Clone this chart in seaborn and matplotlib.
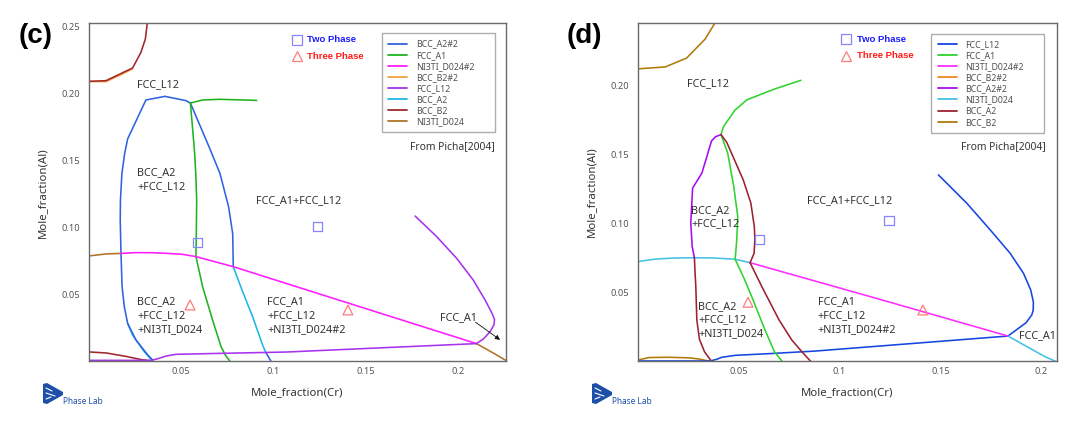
import numpy as np
import pandas as pd
import seaborn as sns
import matplotlib
matplotlib.use("Agg")
import matplotlib.pyplot as plt
from matplotlib.lines import Line2D
from matplotlib.patches import Polygon

# ---------------- data: panel (c) ----------------
c_bccb2_top_x = [0.0, 0.0094, 0.0238, 0.0283, 0.0307, 0.0320]
c_bccb2_top_y = [0.2087, 0.2092, 0.2187, 0.2303, 0.2403, 0.2552]
c_bccb2b_top_x = [0.0, 0.0094, 0.0165, 0.0238]
c_bccb2b_top_y = [0.2085, 0.2085, 0.2130, 0.2180]
c_bccb2_bot_x = [0.0, 0.0095, 0.0200, 0.0280, 0.0340]
c_bccb2_bot_y = [0.0068, 0.0060, 0.0035, 0.0012, 0.0]

c_bcca2b_loop_x = [0.0347, 0.0320, 0.0256, 0.0211, 0.0193, 0.0181, 0.0175, 0.0171, 0.0172,
                   0.0180, 0.0195, 0.0211, 0.0310, 0.0413, 0.0527, 0.0551, 0.0653, 0.0711,
                   0.0758, 0.0780, 0.0783]
c_bcca2b_loop_y = [0.0007, 0.0045, 0.0157, 0.0281, 0.0405, 0.0555, 0.0803, 0.1052, 0.1200,
                   0.1400, 0.1550, 0.1657, 0.1948, 0.1975, 0.1943, 0.1925, 0.1595, 0.1400,
                   0.1150, 0.0950, 0.0704]
c_bcca2b_bot_x = [0.0960, 0.0987]
c_bcca2b_bot_y = [0.0062, 0.0]

c_bcca2_right_x = [0.0783, 0.0834, 0.0888, 0.0942, 0.0960]
c_bcca2_right_y = [0.0704, 0.0517, 0.0331, 0.0119, 0.0062]
c_bcca2_left_x = [0.0211, 0.0238, 0.0301, 0.0338, 0.0347]
c_bcca2_left_y = [0.0281, 0.0194, 0.0070, 0.0012, 0.0]

c_fcca1_up_x = [0.0551, 0.0617, 0.0708, 0.0910]
c_fcca1_up_y = [0.1925, 0.1948, 0.1953, 0.1945]
c_fcca1_down_x = [0.0551, 0.0565, 0.0574, 0.0580, 0.0585, 0.0583, 0.0581, 0.0617, 0.0671,
                  0.0717, 0.0740, 0.0764]
c_fcca1_down_y = [0.1925, 0.1700, 0.1550, 0.1400, 0.1200, 0.0950, 0.0779, 0.0555, 0.0306,
                  0.0107, 0.0045, 0.0]

c_ni3tib_x = [0.0175, 0.0260, 0.0347, 0.0430, 0.0509, 0.0581, 0.0783, 0.2100]
c_ni3tib_y = [0.0803, 0.0809, 0.0808, 0.0803, 0.0796, 0.0779, 0.0704, 0.0130]
c_ni3ti_left_x = [0.0, 0.0094, 0.0175]
c_ni3ti_left_y = [0.0784, 0.0799, 0.0803]
c_ni3ti_right_x = [0.2100, 0.2201, 0.2265]
c_ni3ti_right_y = [0.0130, 0.0052, 0.0]

c_fccl12_bot_x = [0.0, 0.0338, 0.0374, 0.0419, 0.0473, 0.0708, 0.1069, 0.2100]
c_fccl12_bot_y = [0.0005, 0.0005, 0.0017, 0.0037, 0.0050, 0.0057, 0.0067, 0.0130]
c_fccl12_loop_x = [0.1768, 0.1885, 0.1993, 0.2083, 0.2147, 0.2183, 0.2198, 0.2195, 0.2174,
                   0.2138, 0.2100]
c_fccl12_loop_y = [0.1082, 0.0928, 0.0766, 0.0604, 0.0455, 0.0360, 0.0310, 0.0270, 0.0219,
                   0.0165, 0.0130]

c_two_x = [0.0588, 0.1238]
c_two_y = [0.0888, 0.1005]
c_three_x = [0.0549, 0.1404]
c_three_y = [0.0418, 0.0381]

c_legend = ["BCC_A2#2", "FCC_A1", "NI3TI_D024#2", "BCC_B2#2", "FCC_L12", "BCC_A2",
            "BCC_B2", "NI3TI_D024"]
c_colors = ["#2f63df", "#1fb41f", "#ff1cff", "#f3a243", "#a733ef", "#1fb6e6",
            "#a0282a", "#b0742a"]

# ---------------- data: panel (d) ----------------
d_bccb2_top_x = [0.0, 0.0135, 0.0241, 0.0333, 0.0384]
d_bccb2_top_y = [0.2122, 0.2136, 0.2200, 0.2338, 0.2460]
d_bccb2_bot_x = [0.0, 0.0055, 0.0150, 0.0250, 0.0300, 0.0360]
d_bccb2_bot_y = [0.0010, 0.0028, 0.0030, 0.0026, 0.0018, 0.0]

d_fccl12_bot_x = [0.0, 0.0358, 0.0390, 0.0416, 0.0482, 0.0647, 0.0879, 0.1835]
d_fccl12_bot_y = [0.0003, 0.0003, 0.0015, 0.0030, 0.0044, 0.0056, 0.0075, 0.0184]
d_fccl12_loop_x = [0.1490, 0.1631, 0.1747, 0.1846, 0.1912, 0.1948, 0.1961, 0.1960, 0.1953,
                   0.1925, 0.1835]
d_fccl12_loop_y = [0.1353, 0.1147, 0.0954, 0.0784, 0.0639, 0.0518, 0.0430, 0.0370, 0.0337,
                   0.0281, 0.0184]

d_ni3ti_left_x = [0.0, 0.0085, 0.0180, 0.0283, 0.0380, 0.0482, 0.0556]
d_ni3ti_left_y = [0.0724, 0.0742, 0.0750, 0.0752, 0.0750, 0.0741, 0.0716]
d_ni3ti_right_x = [0.1835, 0.2019, 0.2072]
d_ni3ti_right_y = [0.0184, 0.0034, 0.0]
d_ni3tib_x = [0.0556, 0.1200, 0.1835]
d_ni3tib_y = [0.0716, 0.0450, 0.0184]

d_fcca1_up_x = [0.0412, 0.0424, 0.0482, 0.0540, 0.0614, 0.0680, 0.0808]
d_fcca1_up_y = [0.1645, 0.1703, 0.1824, 0.1897, 0.1940, 0.1977, 0.2039]
d_fcca1_mid_x = [0.0412, 0.0445, 0.0475, 0.0495, 0.0490, 0.0482]
d_fcca1_mid_y = [0.1645, 0.1511, 0.1269, 0.1051, 0.0881, 0.0741]
d_fcca1_low_x = [0.0482, 0.0530, 0.0564, 0.0630, 0.0677, 0.0715]
d_fcca1_low_y = [0.0741, 0.0590, 0.0470, 0.0228, 0.0070, 0.0]

d_bcca2b_x = [0.0412, 0.0385, 0.0365, 0.0317, 0.0271, 0.0262, 0.0269, 0.0280]
d_bcca2b_y = [0.1645, 0.1630, 0.1600, 0.1366, 0.1257, 0.1002, 0.0833, 0.0752]

d_bcca2_left_x = [0.0280, 0.0283, 0.0287, 0.0292, 0.0305, 0.0330, 0.0365]
d_bcca2_left_y = [0.0752, 0.0650, 0.0542, 0.0300, 0.0160, 0.0070, 0.0]
d_bcca2_right_x = [0.0412, 0.0440, 0.0471, 0.0522, 0.0560, 0.0577, 0.0580, 0.0576, 0.0556]
d_bcca2_right_y = [0.1645, 0.1590, 0.1487, 0.1317, 0.1148, 0.0978, 0.0890, 0.0784, 0.0716]
d_bcca2_low_x = [0.0556, 0.0617, 0.0700, 0.0763, 0.0813, 0.0857]
d_bcca2_low_y = [0.0716, 0.0535, 0.0300, 0.0155, 0.0070, 0.0]

d_two_x = [0.0601, 0.1245]
d_two_y = [0.0886, 0.1019]
d_three_x = [0.0546, 0.1413]
d_three_y = [0.0429, 0.0373]

d_legend = ["FCC_L12", "FCC_A1", "NI3TI_D024#2", "BCC_B2#2", "BCC_A2#2", "NI3TI_D024",
            "BCC_A2", "BCC_B2"]
d_colors = ["#1646e0", "#2fd22f", "#ff2cff", "#ee8a22", "#a50cf0", "#45c2e3",
            "#9c2233", "#b27a0a"]

# ---------------- style ----------------
sns.set_style("white")
plt.rcParams["font.family"] = ["Noto Sans", "DejaVu Sans"]

TXT = "#333333"
BOLD = ["Liberation Sans", "DejaVu Sans"]
fig = plt.figure(figsize=(10.8, 4.28), dpi=100)
ax_c = fig.add_axes([0.0821, 0.1565, 0.3864, 0.7890])
ax_d = fig.add_axes([0.5907, 0.1556, 0.3876, 0.7914])


def draw(ax, xs, ys, color):
    df = pd.DataFrame({"x": xs, "y": ys})
    sns.lineplot(data=df, x="x", y="y", sort=False, estimator=None, color=color,
                 lw=1.15, ax=ax, legend=False)


cc = dict(zip(c_legend, c_colors))
draw(ax_c, c_bccb2b_top_x, c_bccb2b_top_y, cc["BCC_B2#2"])
draw(ax_c, c_bccb2_top_x, c_bccb2_top_y, cc["BCC_B2"])
draw(ax_c, c_bccb2_bot_x, c_bccb2_bot_y, cc["BCC_B2"])
draw(ax_c, c_bcca2_left_x, c_bcca2_left_y, cc["BCC_A2"])
draw(ax_c, c_bcca2_right_x, c_bcca2_right_y, cc["BCC_A2"])
draw(ax_c, c_bcca2b_loop_x, c_bcca2b_loop_y, cc["BCC_A2#2"])
draw(ax_c, c_bcca2b_bot_x, c_bcca2b_bot_y, cc["BCC_A2#2"])
draw(ax_c, c_fcca1_up_x, c_fcca1_up_y, cc["FCC_A1"])
draw(ax_c, c_fcca1_down_x, c_fcca1_down_y, cc["FCC_A1"])
draw(ax_c, c_ni3ti_left_x, c_ni3ti_left_y, cc["NI3TI_D024"])
draw(ax_c, c_ni3ti_right_x, c_ni3ti_right_y, cc["NI3TI_D024"])
draw(ax_c, c_ni3tib_x, c_ni3tib_y, cc["NI3TI_D024#2"])
draw(ax_c, c_fccl12_bot_x, c_fccl12_bot_y, cc["FCC_L12"])
draw(ax_c, c_fccl12_loop_x, c_fccl12_loop_y, cc["FCC_L12"])

dc = dict(zip(d_legend, d_colors))
draw(ax_d, d_bccb2_top_x, d_bccb2_top_y, dc["BCC_B2"])
draw(ax_d, d_bccb2_bot_x, d_bccb2_bot_y, dc["BCC_B2"])
draw(ax_d, d_fccl12_bot_x, d_fccl12_bot_y, dc["FCC_L12"])
draw(ax_d, d_fccl12_loop_x, d_fccl12_loop_y, dc["FCC_L12"])
draw(ax_d, d_ni3ti_left_x, d_ni3ti_left_y, dc["NI3TI_D024"])
draw(ax_d, d_ni3ti_right_x, d_ni3ti_right_y, dc["NI3TI_D024"])
draw(ax_d, d_ni3tib_x, d_ni3tib_y, dc["NI3TI_D024#2"])
draw(ax_d, d_fcca1_up_x, d_fcca1_up_y, dc["FCC_A1"])
draw(ax_d, d_fcca1_mid_x, d_fcca1_mid_y, dc["FCC_A1"])
draw(ax_d, d_fcca1_low_x, d_fcca1_low_y, dc["FCC_A1"])
draw(ax_d, d_bcca2b_x, d_bcca2b_y, dc["BCC_A2#2"])
draw(ax_d, d_bcca2_left_x, d_bcca2_left_y, dc["BCC_A2"])
draw(ax_d, d_bcca2_right_x, d_bcca2_right_y, dc["BCC_A2"])
draw(ax_d, d_bcca2_low_x, d_bcca2_low_y, dc["BCC_A2"])

SQ = "#8585ff"
TR = "#ff7a7a"
for ax, tx, ty, hx, hy in [(ax_c, c_two_x, c_two_y, c_three_x, c_three_y),
                           (ax_d, d_two_x, d_two_y, d_three_x, d_three_y)]:
    sns.scatterplot(x=tx, y=ty, marker="s", s=42, facecolor="none", edgecolor=SQ,
                    linewidth=0.9, ax=ax, zorder=5)
    sns.scatterplot(x=hx, y=hy, marker="^", s=50, facecolor="none", edgecolor=TR,
                    linewidth=0.9, ax=ax, zorder=5)

# axes styling
ax_c.set_xlim(0, 0.2260)
ax_c.set_ylim(0, 0.2520)
ax_d.set_xlim(0, 0.2076)
ax_d.set_ylim(0, 0.2457)
ax_c.set_xticks([0.05, 0.1, 0.15, 0.2])
ax_c.set_xticklabels(["0.05", "0.1", "0.15", "0.2"])
ax_c.set_yticks([0.05, 0.10, 0.15, 0.20, 0.25])
ax_c.set_yticklabels(["0.05", "0.10", "0.15", "0.20", "0.25"])
ax_d.set_xticks([0.05, 0.1, 0.15, 0.2])
ax_d.set_xticklabels(["0.05", "0.1", "0.15", "0.2"])
ax_d.set_yticks([0.05, 0.10, 0.15, 0.20])
ax_d.set_yticklabels(["0.05", "0.10", "0.15", "0.20"])

for ax in (ax_c, ax_d):
    for s in ax.spines.values():
        s.set_visible(True)
        s.set_color("#6a6a6a")
        s.set_linewidth(1.0)
    ax.tick_params(axis="both", which="both", length=3, width=0.8, color="#6a6a6a",
                   labelsize=6.7, labelcolor="#555555", pad=3, direction="out")
    ax.tick_params(axis="x", direction="in", pad=4)
    ax.set_xlabel("Mole_fraction(Cr)", fontsize=8.2, color=TXT, labelpad=8)
    ax.set_ylabel("Mole_fraction(Al)", fontsize=8.2, color=TXT, labelpad=10)
    ax.set_facecolor("white")


def legend(ax, names, colors, box):
    handles = [Line2D([0], [0], color=c, lw=1.3) for c in colors]
    lg = ax.legend(handles, names, loc="upper left", bbox_to_anchor=box, mode="expand",
                   fontsize=6.3, frameon=True, fancybox=False, handlelength=2.2,
                   handletextpad=1.0, labelspacing=0.24, borderpad=0.7,
                   borderaxespad=0.0)
    lg.get_frame().set_edgecolor("#9a9a9a")
    lg.get_frame().set_linewidth(1.0)
    for t in lg.get_texts():
        t.set_color("#505050")
    return lg

legend(ax_c, c_legend, c_colors, (0.702, 0.670, 0.272, 0.300))
legend(ax_d, d_legend, d_colors, (0.701, 0.667, 0.269, 0.300))

for ax, sx in [(ax_c, 0.499), (ax_d, 0.498)]:
    ax.plot([sx], [0.951], marker="s", ms=6.5, mfc="none", mec=SQ, mew=0.9,
            transform=ax.transAxes, ls="none")
    ax.plot([sx], [0.903], marker="^", ms=7, mfc="none", mec=TR, mew=0.9,
            transform=ax.transAxes, ls="none")
    ax.text(sx + 0.025, 0.951, "Two Phase", transform=ax.transAxes, color="#1a1aff",
            fontsize=6.8, fontweight="bold", family=BOLD, va="center", ha="left")
    ax.text(sx + 0.025, 0.902, "Three Phase", transform=ax.transAxes, color="#ff1a1a",
            fontsize=6.8, fontweight="bold", family=BOLD, va="center", ha="left")
    ax.text(0.973, 0.634, "From Picha[2004]", transform=ax.transAxes, color=TXT,
            fontsize=7.4, va="center", ha="right")

LBL = dict(fontsize=7.8, color=TXT, va="center", ha="left", linespacing=1.35)
ax_c.text(0.0264, 0.2065, "FCC_L12", **LBL)
ax_c.text(0.0264, 0.1353, "BCC_A2\n+FCC_L12", **LBL)
ax_c.text(0.0907, 0.1194, "FCC_A1+FCC_L12", **LBL)
ax_c.text(0.0264, 0.0338, "BCC_A2\n+FCC_L12\n+NI3TI_D024", **LBL)
ax_c.text(0.0968, 0.0338, "FCC_A1\n+FCC_L12\n+NI3TI_D024#2", **LBL)
ax_c.text(0.1903, 0.0326, "FCC_A1", **LBL)
ax_c.annotate("", xy=(0.2228, 0.0158), xytext=(0.2095, 0.0290),
              arrowprops=dict(arrowstyle="-|>", color="#111111", lw=0.6,
                              mutation_scale=7, shrinkA=0, shrinkB=0))

ax_d.text(0.0245, 0.2012, "FCC_L12", **LBL)
ax_d.text(0.0265, 0.1046, "BCC_A2\n+FCC_L12", **LBL)
ax_d.text(0.0836, 0.1165, "FCC_A1+FCC_L12", **LBL)
ax_d.text(0.0300, 0.0300, "BCC_A2\n+FCC_L12\n+NI3TI_D024", **LBL)
ax_d.text(0.0892, 0.0332, "FCC_A1\n+FCC_L12\n+NI3TI_D024#2", **LBL)
ax_d.text(0.1889, 0.0186, "FCC_A1", **LBL)

# panel labels
fig.text(0.017, 0.917, "(c)", fontsize=20, fontweight="bold", family=BOLD, color="black",
         va="center", ha="left")
fig.text(0.525, 0.917, "(d)", fontsize=20, fontweight="bold", family=BOLD, color="black",
         va="center", ha="left")

# Phase Lab logos
W, H = 1080.0, 428.0
def logo(x0):
    pts = [(x0, 384), (x0 + 4, 383), (x0 + 20, 392), (x0 + 20, 395), (x0 + 4, 404), (x0, 403)]
    poly = Polygon([(px / W, 1 - py / H) for px, py in pts], closed=True,
                   transform=fig.transFigure, facecolor="#1d4fa8", edgecolor="none")
    fig.patches.append(poly)
    for (a, b), (c, d) in [((x0 + 3, 388), (x0 + 9, 391)), ((x0 + 3, 393), (x0 + 12, 396)),
                           ((x0 + 3, 399), (x0 + 8, 397))]:
        fig.lines.append(Line2D([a / W, c / W], [1 - b / H, 1 - d / H], color="white",
                                lw=0.8, transform=fig.transFigure))
    fig.text((x0 + 20) / W, 1 - 402 / H, "Phase Lab", fontsize=6, color="#1d4fa8",
             va="center", ha="left")

logo(43)
logo(592)

fig.savefig("out.png", dpi=100, facecolor="white")
